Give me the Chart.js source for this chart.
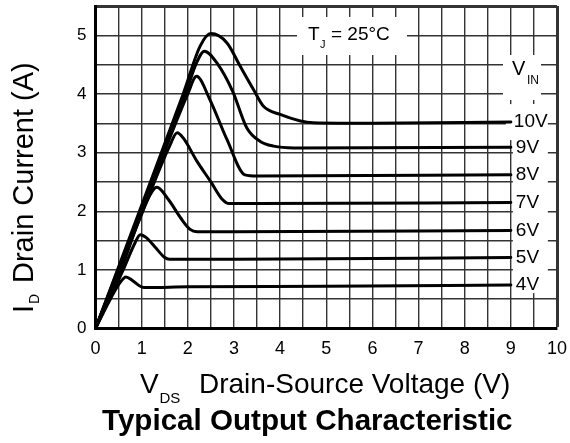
<!DOCTYPE html>
<html>
<head>
<meta charset="utf-8">
<script src="https://cdn.jsdelivr.net/npm/chart.js@4/dist/chart.umd.min.js"></script>
<style>
  html, body { margin: 0; padding: 0; background: #fff; }
  #wrap { width: 570px; height: 443px; }
</style>
</head>
<body>
<div id="wrap"><canvas id="c" width="570" height="443"></canvas></div>
<script>
// ---- data ----
const xTicks = [0,1,2,3,4,5,6,7,8,9,10];
const yTicks = [0,1,2,3,4,5];
const seriesLabels = ['10V','9V','8V','7V','6V','5V','4V'];

const vds_10V = [0, 1.0, 1.9, 2.27, 2.5, 2.85, 3.13, 3.42, 3.64, 4.0, 4.44, 4.72, 6.0, 9.0];
const id_10V  = [0, 2.1, 4.0, 4.82, 5.03, 4.87, 4.48, 4.08, 3.79, 3.65, 3.54, 3.51, 3.5, 3.52];

const vds_9V = [0, 1.0, 1.95, 2.2, 2.36, 2.63, 2.97, 3.28, 3.57, 3.86, 4.3, 9.0];
const id_9V  = [0, 2.05, 4.0, 4.55, 4.73, 4.53, 4.05, 3.42, 3.19, 3.11, 3.08, 3.09];

const vds_8V = [0, 1.0, 2.0, 2.19, 2.48, 2.85, 3.24, 3.5, 9.0];
const id_8V  = [0, 2.0, 4.0, 4.3, 3.9, 3.22, 2.62, 2.6, 2.62];

const vds_7V = [0, 1.0, 1.6, 1.77, 1.9, 2.2, 2.5, 2.75, 2.9, 3.5, 9.0];
const id_7V  = [0, 1.95, 3.1, 3.34, 3.25, 2.85, 2.5, 2.2, 2.13, 2.13, 2.15];

const vds_6V = [0, 0.55, 1.1, 1.33, 1.58, 1.85, 2.05, 2.2, 3.0, 9.0];
const id_6V  = [0, 1.0, 2.15, 2.41, 2.2, 1.88, 1.69, 1.65, 1.65, 1.67];

const vds_5V = [0, 0.6, 0.85, 0.97, 1.1, 1.3, 1.5, 1.6, 3.0, 9.0];
const id_5V  = [0, 1.0, 1.45, 1.6, 1.55, 1.38, 1.21, 1.18, 1.18, 1.21];

const vds_4V = [0, 0.3, 0.52, 0.66, 0.8, 0.95, 1.05, 2.0, 5.0, 9.0];
const id_4V  = [0, 0.47, 0.77, 0.88, 0.82, 0.73, 0.70, 0.71, 0.72, 0.74];

const allVds = [vds_10V, vds_9V, vds_8V, vds_7V, vds_6V, vds_5V, vds_4V];
const allId  = [id_10V, id_9V, id_8V, id_7V, id_6V, id_5V, id_4V];

const FONT = "'Liberation Sans', Arial, Helvetica, sans-serif";

const datasets = seriesLabels.map((lab, i) => ({
  label: lab,
  data: allVds[i].map((v, k) => ({ x: v, y: allId[i][k] })),
  borderColor: '#000',
  borderWidth: 3,
  pointRadius: 0,
  fill: false,
  cubicInterpolationMode: 'monotone',
  borderJoinStyle: 'round',
  borderCapStyle: 'round'
}));

function txt(ctx, s, x, y, font, align) {
  ctx.font = font;
  ctx.textAlign = align || 'left';
  ctx.textBaseline = 'alphabetic';
  ctx.fillText(s, x, y);
}

const annot = {
  id: 'annot',
  beforeDatasetsDraw(chart) {
    const ctx = chart.ctx;
    const xs = chart.scales.x, ys = chart.scales.y;
    ctx.save();
    ctx.fillStyle = '#fff';
    // T_J box
    ctx.fillRect(297, 17, 110, 38);
    // V_IN box
    ctx.fillRect(503, 55, 38, 45);
    // label column
    const x9 = xs.getPixelForValue(9);
    const top = ys.getPixelForValue(id_10V[id_10V.length - 1]) - 18;
    const bot = ys.getPixelForValue(id_4V[id_4V.length - 1]) + 8;
    ctx.fillRect(x9 + 2, top, 35, bot - top);
    ctx.fillRect(x9 - 5, top, 40, 36);
    ctx.restore();
  },
  afterDraw(chart) {
    const ctx = chart.ctx;
    const xs = chart.scales.x, ys = chart.scales.y;
    ctx.save();
    ctx.fillStyle = '#000';
    // curve labels
    const x9 = xs.getPixelForValue(9);
    seriesLabels.forEach((lab, i) => {
      const yEnd = allId[i][allId[i].length - 1];
      const py = ys.getPixelForValue(yEnd);
      ctx.font = '19px ' + FONT;
      ctx.textAlign = 'left';
      ctx.textBaseline = 'middle';
      ctx.fillText(lab, x9 + (i === 0 ? 3 : 5), py);
    });
    // V_IN
    txt(ctx, 'V', 512, 74.5, '20px ' + FONT);
    txt(ctx, 'IN', 527, 84, '12px ' + FONT);
    // T_J = 25°C
    txt(ctx, 'T', 308, 40, '19px ' + FONT);
    txt(ctx, 'J', 320, 48, '11px ' + FONT);
    txt(ctx, '= 25°C', 331, 40, '19px ' + FONT);
    // X title
    txt(ctx, 'V', 140, 393, '28px ' + FONT);
    txt(ctx, 'DS', 159.5, 403, '15px ' + FONT);
    txt(ctx, 'Drain-Source Voltage (V)', 199, 393, '28px ' + FONT);
    // chart title
    txt(ctx, 'Typical Output Characteristic', 102, 429.5, 'bold 29.6px ' + FONT);
    // Y title (rotated)
    ctx.translate(33, 0);
    ctx.rotate(-Math.PI / 2);
    txt(ctx, 'I', -313, 0, '29px ' + FONT);
    txt(ctx, 'D', -304, 5.5, '14px ' + FONT);
    txt(ctx, 'Drain Current (A)', -283, 0, '29px ' + FONT);
    ctx.restore();
  }
};

new Chart(document.getElementById('c'), {
  type: 'line',
  data: { datasets },
  options: {
    responsive: false,
    animation: false,
    events: [],
    layout: { padding: { top: 6, right: 13, left: 0, bottom: 0 } },
    plugins: { legend: { display: false }, tooltip: { enabled: false }, title: { display: false } },
    scales: {
      x: {
        type: 'linear', min: 0, max: 10,
        afterFit(s) { s.height = 114.5; s.paddingLeft = 0; s.paddingRight = 0; },
        afterBuildTicks(s) {
          const t = [];
          for (let v = 0; v <= 20; v++) t.push({ value: v / 2 });
          s.ticks = t;
        },
        ticks: {
          autoSkip: false, maxRotation: 0, padding: 10, color: '#000',
          font: { family: FONT, size: 18 },
          callback: v => (xTicks.includes(v) ? String(v) : '')
        },
        grid: {
          drawTicks: false, color: '#333',
          lineWidth: c => (c.tick && c.tick.value === 10 ? 3 : 1.4)
        },
        border: { display: true, color: '#000', width: 3 }
      },
      y: {
        type: 'linear', min: 0, max: 5.5,
        afterFit(s) { s.width = 95.5; s.paddingTop = 0; s.paddingBottom = 0; },
        afterBuildTicks(s) {
          const t = [];
          for (let v = 0; v <= 11; v++) t.push({ value: v / 2 });
          s.ticks = t;
        },
        ticks: {
          autoSkip: false, padding: 9, color: '#000',
          font: { family: FONT, size: 17 },
          callback: v => (yTicks.includes(v) ? String(v) : '')
        },
        grid: {
          drawTicks: false, color: '#333',
          lineWidth: c => (c.tick && c.tick.value === 5.5 ? 3 : 1.4)
        },
        border: { display: true, color: '#000', width: 3 }
      }
    }
  },
  plugins: [annot]
});
</script>
</body>
</html>
